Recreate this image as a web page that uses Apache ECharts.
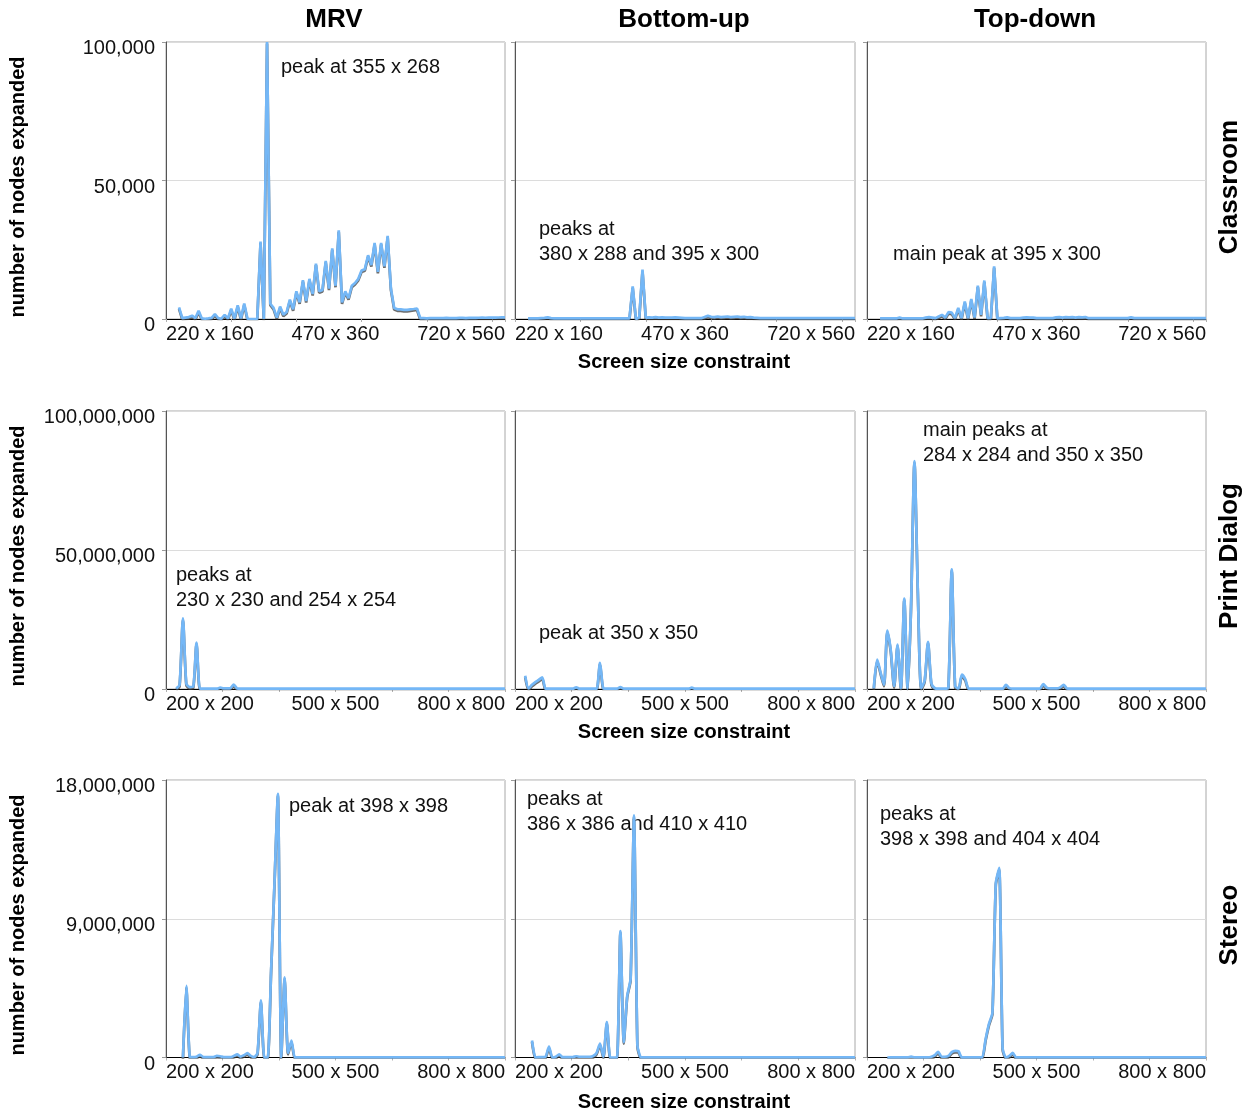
<!DOCTYPE html>
<html>
<head>
<meta charset="utf-8">
<script src="https://cdn.jsdelivr.net/npm/echarts@6/dist/echarts.min.js"></script>
<style>
  html, body { margin: 0; padding: 0; background: #ffffff; }
  #chart { width: 1254px; height: 1113px; }
</style>
</head>
<body>
<div id="chart"></div>
<script>
// Search effort (nodes expanded) of three layout solvers while sweeping the screen size.

const methods = ['MRV', 'Bottom-up', 'Top-down'];
const dialogs = ['Classroom', 'Print Dialog', 'Stereo'];

// Screen widths of each sweep (Classroom: 5 x 4 steps, square dialogs: 6 x 6 steps)
const classroomWidths = [
  220,225,230,235,240,245,250,255,260,265,
  270,275,280,285,290,295,300,305,310,315,
  320,325,330,335,340,345,350,355,360,365,
  370,375,380,385,390,395,400,405,410,415,
  420,425,430,435,440,445,450,455,460,465,
  470,475,480,485,490,495,500,505,510,515,
  520,525,530,535,540,545,550,555,560,565,
  570,575,580,585,590,595,600,605,610,615,
  620,625,630,635,640,645,650,655,660,665,
  670,675,680,685,690,695,700,705,710,715,
  720
];
const squareWidths = [
  200,206,212,218,224,230,236,242,248,254,
  260,266,272,278,284,290,296,302,308,314,
  320,326,332,338,344,350,356,362,368,374,
  380,386,392,398,404,410,416,422,428,434,
  440,446,452,458,464,470,476,482,488,494,
  500,506,512,518,524,530,536,542,548,554,
  560,566,572,578,584,590,596,602,608,614,
  620,626,632,638,644,650,656,662,668,674,
  680,686,692,698,704,710,716,722,728,734,
  740,746,752,758,764,770,776,782,788,794,
  800
];

// Tick labels on the screen-size axes
const classroomTicks = ['220 x 160', '470 x 360', '720 x 560'];
const squareTicks = ['200 x 200', '500 x 500', '800 x 800'];

// Value-axis ranges per dialog
const yMaxima = [100000, 100000000, 18000000];
const yIntervals = [50000, 50000000, 9000000];

// ---- Classroom ----
const mrvClassroom = [
  4200,300,500,700,1200,300,3000,200,100,200,
  400,1800,300,100,1500,200,3700,200,4900,200,
  5600,100,0,0,0,28000,0,100000,5500,4000,
  500,4500,1500,2500,7000,3500,10000,6000,14000,6500,
  14500,9000,20000,10000,10500,21000,11000,25500,12000,32000,
  6000,10000,7500,12000,13000,14500,17500,18000,23000,19500,
  27500,17000,27500,19000,30000,11000,4000,3500,3500,3300,
  3300,3500,3600,3800,300,300,250,300,350,300,
  300,350,400,350,300,350,400,400,350,400,
  450,400,450,500,450,500,550,500,550,600,
  600
];
const bottomUpClassroom = [
  200,200,200,200,300,400,600,300,200,200,
  200,200,200,200,200,200,200,200,200,200,
  200,200,200,200,200,200,200,200,200,200,
  200,200,11800,0,500,17800,500,600,500,700,
  500,600,500,500,500,600,500,400,300,300,
  300,300,300,300,700,1200,800,700,900,700,
  800,900,700,800,900,700,800,600,700,500,
  400,300,300,300,300,300,300,300,300,300,
  300,300,300,300,300,300,300,300,300,300,
  300,300,300,300,300,300,300,300,300,300,
  300
];
const topDownClassroom = [
  200,200,200,200,200,200,500,200,200,200,
  200,200,200,200,500,700,500,300,900,1500,
  500,2500,2300,300,4000,300,6300,300,7200,500,
  12000,1500,13900,300,400,19000,200,300,400,600,
  300,300,300,300,500,600,500,500,300,300,
  300,300,300,300,600,700,500,700,600,700,
  500,700,600,700,300,300,300,300,300,300,
  300,300,300,300,300,300,300,600,300,300,
  300,300,300,300,300,300,300,300,300,300,
  300,300,300,300,300,300,300,300,300,300,
  300
];

// ---- Print Dialog ----
const mrvPrint = [
  null,null,null,0.2e6,1.5e6,25.4e6,1.9e6,0.7e6,0.8e6,16.7e6,
  0.1e6,0.1e6,0.1e6,0.1e6,0.1e6,0.1e6,0.5e6,0.2e6,0.2e6,0.3e6,
  1.6e6,0.2e6,0.1e6,0.1e6,0.1e6,0.1e6,0.1e6,0.1e6,0.1e6,0.1e6,
  0.1e6,0.1e6,0.1e6,0.1e6,0.1e6,0.1e6,0.1e6,0.1e6,0.1e6,0.1e6,
  0.1e6,0.1e6,0.1e6,0.1e6,0.1e6,0.1e6,0.1e6,0.1e6,0.1e6,0.1e6,
  0.1e6,0.1e6,0.1e6,0.1e6,0.1e6,0.1e6,0.1e6,0.1e6,0.1e6,0.1e6,
  0.1e6,0.1e6,0.1e6,0.1e6,0.1e6,0.1e6,0.1e6,0.1e6,0.1e6,0.1e6,
  0.1e6,0.1e6,0.1e6,0.1e6,0.1e6,0.1e6,0.1e6,0.1e6,0.1e6,0.1e6,
  0.1e6,0.1e6,0.1e6,0.1e6,0.1e6,0.1e6,0.1e6,0.1e6,0.1e6,0.1e6,
  0.1e6,0.1e6,0.1e6,0.1e6,0.1e6,0.1e6,0.1e6,0.1e6,0.1e6,0.1e6,
  0.1e6
];
const bottomUpPrint = [
  null,null,null,4.8e6,0.2e6,1.5e6,2.5e6,3.3e6,4.2e6,0.1e6,
  0.1e6,0.1e6,0.1e6,0.1e6,0.1e6,0.1e6,0.1e6,0.1e6,0.6e6,0.1e6,
  0.1e6,0.1e6,0.1e6,0.1e6,0.1e6,9.4e6,0.2e6,0.1e6,0.1e6,0.1e6,
  0.1e6,0.7e6,0.1e6,0.1e6,0.1e6,0.1e6,0.1e6,0.1e6,0.1e6,0.1e6,
  0.1e6,0.1e6,0.1e6,0.1e6,0.1e6,0.1e6,0.1e6,0.1e6,0.1e6,0.1e6,
  0.1e6,0.1e6,0.5e6,0.1e6,0.1e6,0.1e6,0.1e6,0.1e6,0.1e6,0.1e6,
  0.1e6,0.1e6,0.1e6,0.1e6,0.1e6,0.1e6,0.1e6,0.1e6,0.1e6,0.1e6,
  0.1e6,0.1e6,0.1e6,0.1e6,0.1e6,0.1e6,0.1e6,0.1e6,0.1e6,0.1e6,
  0.1e6,0.1e6,0.1e6,0.1e6,0.1e6,0.1e6,0.1e6,0.1e6,0.1e6,0.1e6,
  0.1e6,0.1e6,0.1e6,0.1e6,0.1e6,0.1e6,0.1e6,0.1e6,0.1e6,0.1e6,
  0.1e6
];
const topDownPrint = [
  null,null,0.2e6,10.6e6,6e6,1.5e6,21e6,14e6,1e6,16e6,
  0.3e6,32.5e6,0.2e6,30e6,82e6,35e6,0.3e6,3e6,17e6,2e6,
  0.3e6,0.1e6,0.1e6,0.1e6,0.5e6,43e6,1e6,0.2e6,5.2e6,3.5e6,
  0.1e6,0.1e6,0.1e6,0.1e6,0.1e6,0.1e6,0.1e6,0.1e6,0.1e6,0.1e6,
  0.1e6,1.5e6,0.3e6,0.1e6,0.1e6,0.1e6,0.1e6,0.1e6,0.1e6,0.1e6,
  0.1e6,0.1e6,1.8e6,0.5e6,0.2e6,0.2e6,0.2e6,0.6e6,1.5e6,0.2e6,
  0.1e6,0.1e6,0.1e6,0.1e6,0.1e6,0.1e6,0.1e6,0.1e6,0.1e6,0.1e6,
  0.1e6,0.1e6,0.1e6,0.1e6,0.1e6,0.1e6,0.1e6,0.1e6,0.1e6,0.1e6,
  0.1e6,0.1e6,0.1e6,0.1e6,0.1e6,0.1e6,0.1e6,0.1e6,0.1e6,0.1e6,
  0.1e6,0.1e6,0.1e6,0.1e6,0.1e6,0.1e6,0.1e6,0.1e6,0.1e6,0.1e6,
  0.1e6
];

// ---- Stereo ----
const mrvStereo = [
  null,null,null,null,null,0,4.65e6,0.05e6,0.02e6,0.05e6,
  0.17e6,0.03e6,0.02e6,0.02e6,0.02e6,0.1e6,0.08e6,0.02e6,0.02e6,0.02e6,
  0.1e6,0.2e6,0.05e6,0.15e6,0.28e6,0.1e6,0.02e6,0.3e6,3.7e6,0,
  0,5.6e6,11.3e6,17.1e6,0,5.2e6,0.3e6,1.1e6,0,0.01e6,
  0.01e6,0.01e6,0.01e6,0.01e6,0.01e6,0.01e6,0.01e6,0.01e6,0.01e6,0.01e6,
  0.01e6,0.01e6,0.01e6,0.01e6,0.01e6,0.01e6,0.01e6,0.01e6,0.01e6,0.01e6,
  0.01e6,0.01e6,0.01e6,0.01e6,0.01e6,0.01e6,0.01e6,0.01e6,0.01e6,0.01e6,
  0.01e6,0.01e6,0.01e6,0.01e6,0.01e6,0.01e6,0.01e6,0.01e6,0.01e6,0.01e6,
  0.01e6,0.01e6,0.01e6,0.01e6,0.01e6,0.01e6,0.01e6,0.01e6,0.01e6,0.01e6,
  0.01e6,0.01e6,0.01e6,0.01e6,0.01e6,0.01e6,0.01e6,0.01e6,0.01e6,0.01e6,
  0.01e6
];
const bottomUpStereo = [
  null,null,null,null,null,1.1e6,0,0.02e6,0.02e6,0.05e6,
  0.7e6,0,0.05e6,0.2e6,0.02e6,0.03e6,0.03e6,0.03e6,0.08e6,0.05e6,
  0.05e6,0.05e6,0.05e6,0.1e6,0.3e6,0.9e6,0.05e6,2.3e6,0,0,
  0,8.2e6,1.0e6,4e6,5.1e6,15.7e6,0.8e6,0.02e6,0.01e6,0.01e6,
  0.01e6,0.01e6,0.01e6,0.01e6,0.01e6,0.01e6,0.01e6,0.01e6,0.01e6,0.01e6,
  0.01e6,0.01e6,0.01e6,0.01e6,0.01e6,0.01e6,0.01e6,0.01e6,0.01e6,0.01e6,
  0.01e6,0.01e6,0.01e6,0.01e6,0.01e6,0.01e6,0.01e6,0.01e6,0.01e6,0.01e6,
  0.01e6,0.01e6,0.01e6,0.01e6,0.01e6,0.01e6,0.01e6,0.01e6,0.01e6,0.01e6,
  0.01e6,0.01e6,0.01e6,0.01e6,0.01e6,0.01e6,0.01e6,0.01e6,0.01e6,0.01e6,
  0.01e6,0.01e6,0.01e6,0.01e6,0.01e6,0.01e6,0.01e6,0.01e6,0.01e6,0.01e6,
  0.01e6
];
const topDownStereo = [
  null,null,null,null,null,null,0,0.01e6,0.01e6,0.01e6,
  0.01e6,0.01e6,0.01e6,0.06e6,0.01e6,0.01e6,0.01e6,0.01e6,0.01e6,0.05e6,
  0.15e6,0.37e6,0.05e6,0.05e6,0.1e6,0.35e6,0.43e6,0.4e6,0,0.01e6,
  0.01e6,0.01e6,0.01e6,0.01e6,0,1.2e6,2.2e6,2.9e6,11.3e6,12.3e6,
  0.6e6,0,0.1e6,0.3e6,0,0.01e6,0.01e6,0.01e6,0.01e6,0.01e6,
  0.01e6,0.01e6,0.01e6,0.01e6,0.01e6,0.01e6,0.01e6,0.01e6,0.01e6,0.01e6,
  0.01e6,0.01e6,0.01e6,0.01e6,0.01e6,0.01e6,0.01e6,0.01e6,0.01e6,0.01e6,
  0.01e6,0.01e6,0.01e6,0.01e6,0.01e6,0.01e6,0.01e6,0.01e6,0.01e6,0.01e6,
  0.01e6,0.01e6,0.01e6,0.01e6,0.01e6,0.01e6,0.01e6,0.01e6,0.01e6,0.01e6,
  0.01e6,0.01e6,0.01e6,0.01e6,0.01e6,0.01e6,0.01e6,0.01e6,0.01e6,0.01e6,
  0.01e6
];

// Peak notes per panel: [row, col, x, y, lines]
const notes = [
  [0, 0, 281, 67, ['peak at 355 x 268']],
  [0, 1, 539, 229, ['peaks at', '380 x 288 and 395 x 300']],
  [0, 2, 893, 254, ['main peak at 395 x 300']],
  [1, 0, 176, 575, ['peaks at', '230 x 230 and 254 x 254']],
  [1, 1, 539, 633, ['peak at 350 x 350']],
  [1, 2, 923, 430, ['main peaks at', '284 x 284 and 350 x 350']],
  [2, 0, 289, 806, ['peak at 398 x 398']],
  [2, 1, 527, 799, ['peaks at', '386 x 386 and 410 x 410']],
  [2, 2, 880, 814, ['peaks at', '398 x 398 and 404 x 404']]
];

const FONT = '"Liberation Sans", Arial, Helvetica, sans-serif';
const LINE_COLOR = '#74b7f6';

const rows = [
  { widths: classroomWidths, xMin: 200, xMax: 720, ticks: classroomTicks, smooth: false,
    series: [mrvClassroom, bottomUpClassroom, topDownClassroom] },
  { widths: squareWidths, xMin: 200, xMax: 800, ticks: squareTicks, smooth: 0.25,
    series: [mrvPrint, bottomUpPrint, topDownPrint] },
  { widths: squareWidths, xMin: 200, xMax: 800, ticks: squareTicks, smooth: 0.2,
    series: [mrvStereo, bottomUpStereo, topDownStereo] }
];

// Panel placement
const colBoxes = [{ left: 166, width: 339 }, { left: 515, width: 340 }, { left: 867, width: 339 }];
const rowBoxes = [{ top: 42, height: 277 }, { top: 411, height: 278 }, { top: 780, height: 277.5 }];

const grids = [], xAxes = [], yAxes = [], series = [], graphics = [];

rows.forEach((row, r) => {
  const mid = (row.xMin + row.xMax) / 2;
  const labelPos = [row.xMin, mid, row.xMax];
  methods.forEach((m, c) => {
    const g = grids.length;
    grids.push({
      left: colBoxes[c].left, width: colBoxes[c].width,
      top: rowBoxes[r].top, height: rowBoxes[r].height,
      show: true, borderColor: '#a8a8a8', borderWidth: 1, containLabel: false
    });
    xAxes.push({
      type: 'value', gridIndex: g, min: row.xMin, max: row.xMax, interval: 100,
      axisLine: { show: true, onZero: false, lineStyle: { color: '#000', width: 1 } },
      axisTick: { show: true, length: 3, lineStyle: { color: '#b0b0b0' } },
      axisLabel: {
        show: true,
        customValues: labelPos,
        formatter: (v) => row.ticks[labelPos.indexOf(v)],
        alignMinLabel: 'left', alignMaxLabel: 'right',
        fontSize: 20, color: '#111', fontFamily: FONT, margin: 5
      },
      splitLine: { show: false }
    });
    yAxes.push({
      type: 'value', gridIndex: g, min: 0, max: yMaxima[r], interval: yIntervals[r],
      axisLine: { show: true, lineStyle: { color: '#555', width: 1 } },
      axisTick: { show: true, length: 4, lineStyle: { color: '#999' } },
      axisLabel: {
        show: c === 0,
        formatter: (v) => '{n|' + v.toLocaleString('en-US') + '}',
        rich: { n: { fontSize: 20, color: '#111', fontFamily: FONT, padding: [13, 0, 0, 0] } },
        fontSize: 20, color: '#111', fontFamily: FONT, margin: 11
      },
      splitLine: { show: true, lineStyle: { color: '#dcdcdc', width: 1 } }
    });
    const vals = row.series[c];
    series.push({
      type: 'line', xAxisIndex: g, yAxisIndex: g,
      data: row.widths.map((w, i) => [w, vals[i]]),
      symbol: 'none', showSymbol: false, smooth: row.smooth, connectNulls: false,
      lineStyle: {
        color: LINE_COLOR, width: 2.7,
        shadowColor: 'rgba(60,60,60,0.75)', shadowBlur: 0.5, shadowOffsetY: 1.5
      },
      silent: true, animation: false
    });
  });
});

function label(x, y, text, opt) {
  return Object.assign({
    type: 'text', x: x, y: y, silent: true,
    style: Object.assign({
      text: text, fill: '#000', fontFamily: FONT, fontSize: 20,
      align: 'center', verticalAlign: 'middle',
      textAlign: 'center', textVerticalAlign: 'middle'
    }, opt && opt.style)
  }, opt && opt.el);
}

// Column headings
const colCenters = [334, 684, 1035];
methods.forEach((m, c) => graphics.push(label(colCenters[c], 20, m, { style: { fontSize: 26, fontWeight: 'bold' } })));

// Row headings on the right, and axis titles
const rowCenters = [187, 556, 925];
const xTitleY = [362, 732, 1102];
dialogs.forEach((d, r) => {
  graphics.push(label(1230, rowCenters[r], d, { style: { fontSize: 26, fontWeight: 'bold' }, el: { rotation: Math.PI / 2 } }));
  graphics.push(label(18, rowCenters[r], 'number of nodes expanded', { style: { fontSize: 20, fontWeight: 'bold' }, el: { rotation: Math.PI / 2 } }));
  graphics.push(label(684, xTitleY[r], 'Screen size constraint', { style: { fontSize: 20, fontWeight: 'bold' } }));
});

// Peak notes
notes.forEach(([r, c, x, y, lines]) => {
  lines.forEach((t, k) => {
    graphics.push(label(x, y + k * 25, t, { style: { align: 'left', textAlign: 'left', fill: '#111' } }));
  });
});

const chart = echarts.init(document.getElementById('chart'), null, { renderer: 'canvas' });
chart.setOption({
  animation: false,
  backgroundColor: '#ffffff',
  textStyle: { fontFamily: FONT },
  grid: grids,
  xAxis: xAxes,
  yAxis: yAxes,
  series: series,
  graphic: graphics
});
</script>
</body>
</html>
